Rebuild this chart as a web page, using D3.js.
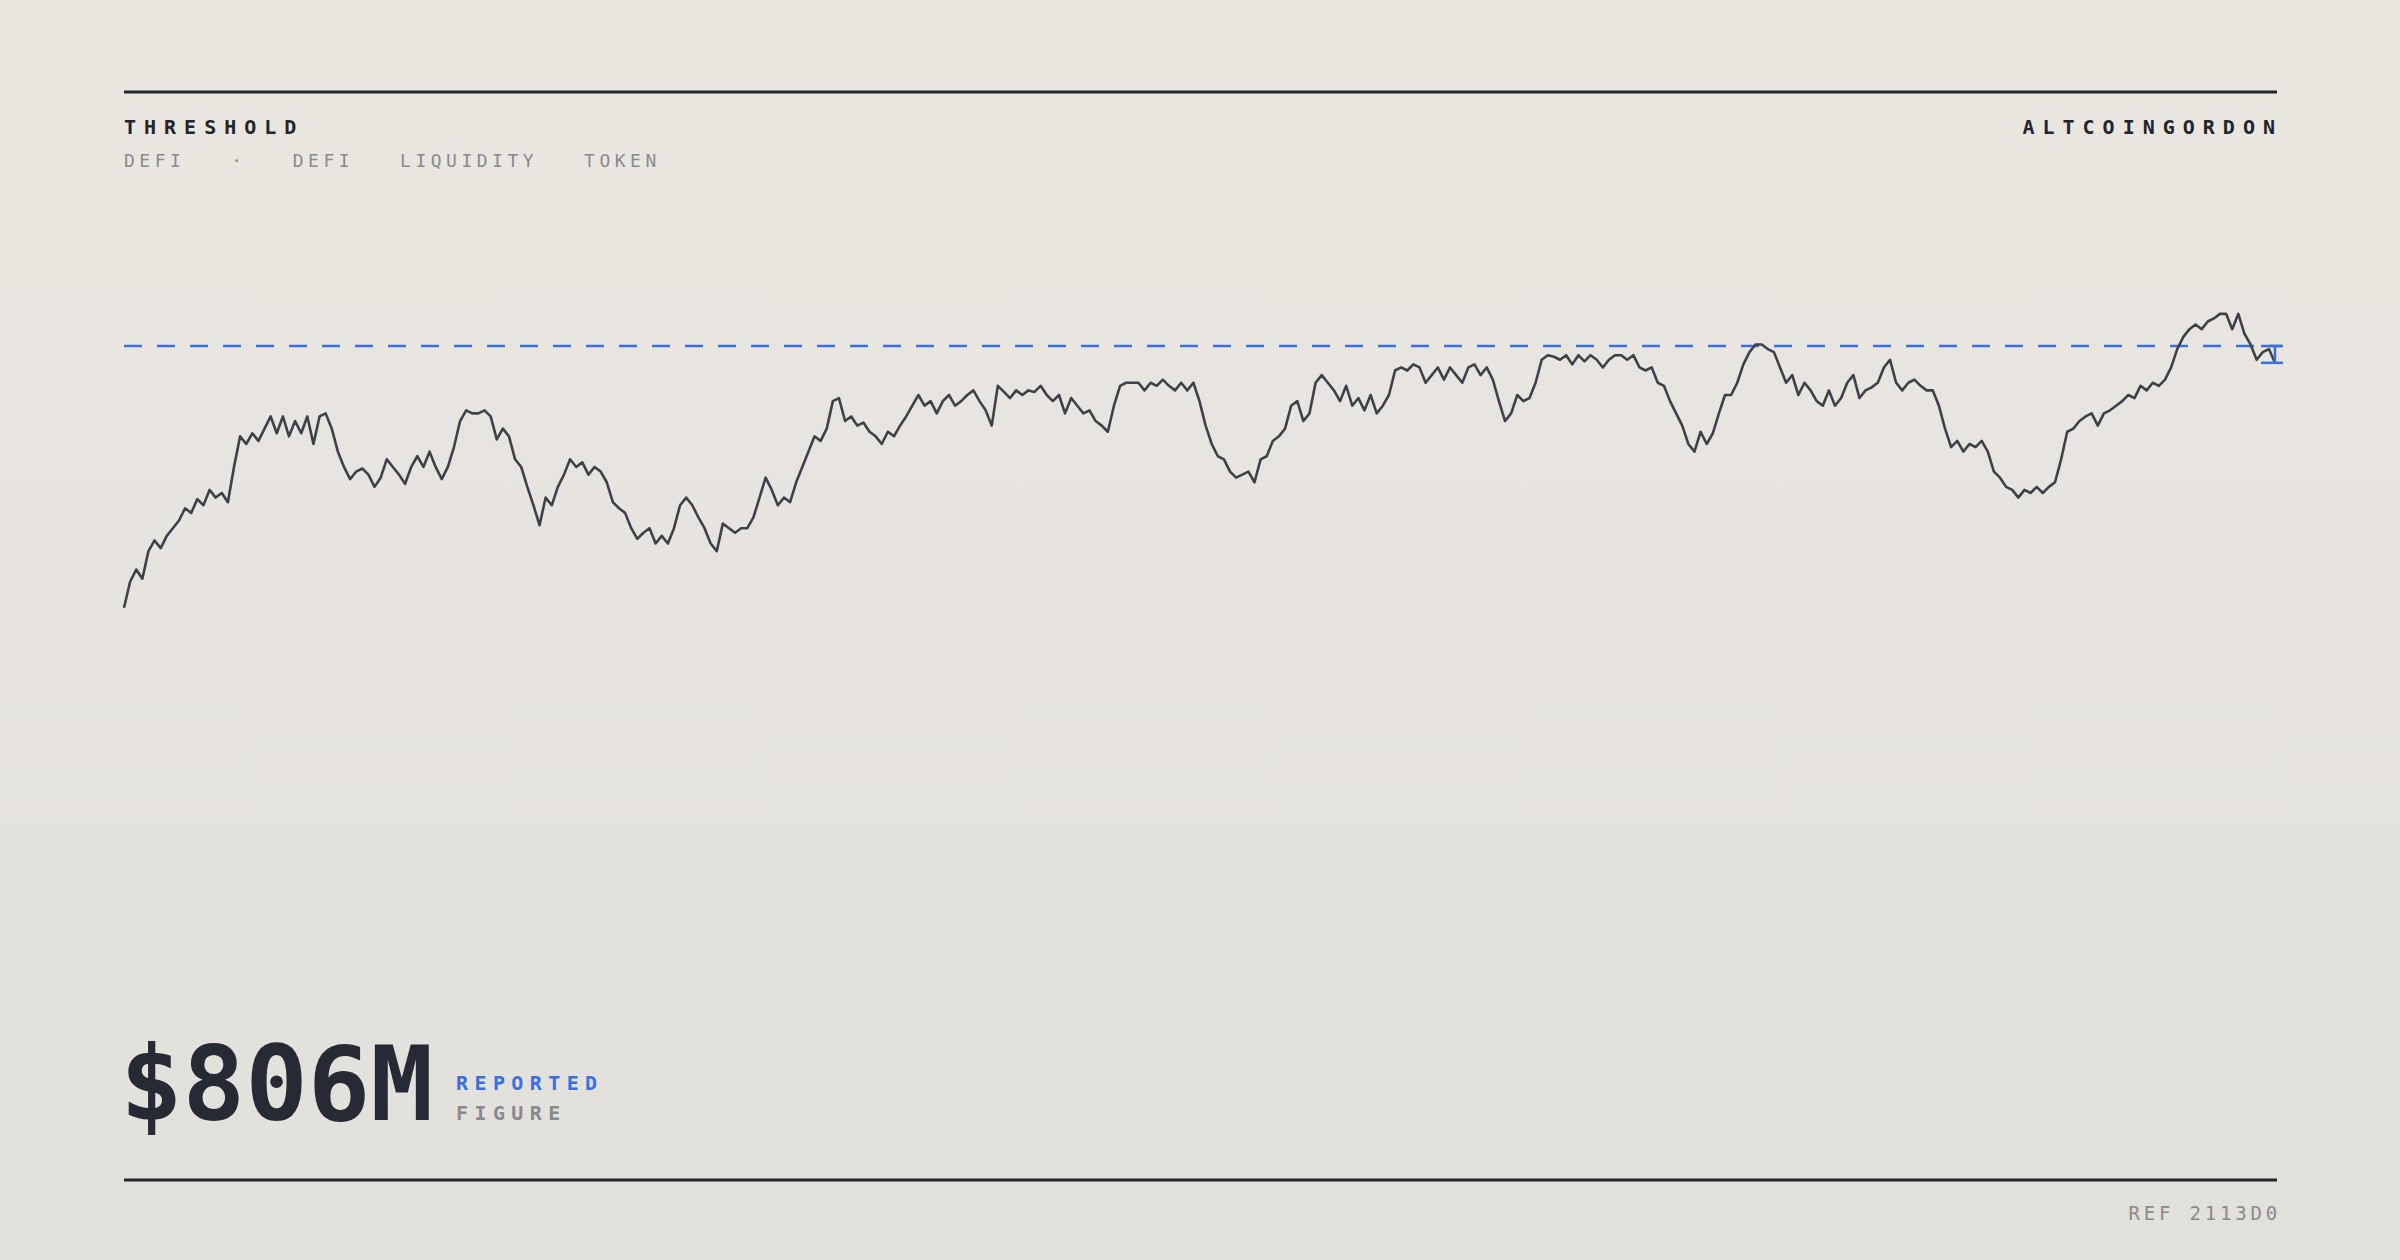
<!DOCTYPE html>
<html><head><meta charset="utf-8">
<script src="https://cdn.jsdelivr.net/npm/d3@7"></script>
<style>
html,body{margin:0;padding:0;}
body{width:2400px;height:1260px;overflow:hidden;}
</style></head>
<body><svg id="c" width="2400" height="1260"></svg>
<script>
const title = "THRESHOLD";
const subtitle = ["DEFI", "·", "DEFI", "LIQUIDITY", "TOKEN"];
const brand = "ALTCOINGORDON";
const headline = "$806M";
const tagTop = "REPORTED";
const tagBottom = "FIGURE";
const refText = "REF 2113D0";
const threshold = 374;
const series = [203,220,228,222,240,247,242,250,255,260,268,265,274,270,280,275,278,272,295,315,310,317,312,320,328,317,328,315,325,317,328,310,328,330,320,305,295,287,292,294,290,282,288,300,295,290,284,295,302,295,305,295,287,295,308,325,332,330,330,332,328,313,320,315,300,295,282,270,257,275,270,282,290,300,295,298,290,295,292,285,272,268,265,255,248,252,255,245,250,245,255,270,275,270,262,255,245,240,258,255,252,255,255,262,275,288,280,270,275,272,285,295,305,315,312,320,338,340,325,328,322,324,318,315,310,318,315,322,328,335,342,335,338,330,338,342,335,338,342,345,338,332,322,348,344,340,345,342,345,344,348,342,338,342,330,340,335,330,332,325,322,318,335,348,350,350,350,345,350,348,352,348,345,350,345,350,338,322,310,302,300,292,288,290,292,285,300,302,312,315,320,335,338,325,330,350,355,350,345,338,348,335,340,332,342,330,335,342,358,360,358,362,360,350,355,360,352,360,355,350,360,362,355,360,352,338,325,330,342,338,340,350,365,368,367,365,368,362,368,364,368,365,360,365,368,368,365,368,360,358,360,350,348,338,330,322,310,305,318,310,317,330,342,342,350,362,370,375,375,372,370,360,350,355,342,350,345,338,335,345,335,340,350,355,340,345,347,350,360,365,350,345,350,352,348,345,345,335,320,308,312,305,310,308,312,305,292,288,282,280,275,280,278,282,278,282,285,300,318,320,325,328,330,322,330,332,335,338,342,340,348,345,350,348,352,360,372,380,385,388,385,390,392,395,395,385,395,382,375,365,370,372,363];

const W = 2400, H = 1260, L = 124, R = 2277;
const svg = d3.select("#c");
const defs = svg.append("defs");
const g = defs.append("linearGradient").attr("id","bg").attr("x1",0).attr("y1",0).attr("x2",0).attr("y2",1);
g.append("stop").attr("offset","0%").attr("stop-color","#eae7e1");
g.append("stop").attr("offset","100%").attr("stop-color","#e2e0db");
svg.append("rect").attr("width",W).attr("height",H).attr("fill","url(#bg)");

const mono = "'DejaVu Sans Mono', 'Liberation Mono', monospace";
svg.append("line").attr("x1",L).attr("x2",R).attr("y1",92).attr("y2",92).attr("stroke","#22252d").attr("stroke-width",3);
svg.append("line").attr("x1",L).attr("x2",R).attr("y1",1180).attr("y2",1180).attr("stroke","#22252d").attr("stroke-width",3);

svg.append("text").attr("x",L).attr("y",134).text(title).attr("font-family",mono).attr("font-weight","bold")
  .attr("font-size",20).attr("letter-spacing","0.4em").attr("fill","#22252d");
svg.append("text").attr("x",R+6).attr("y",134).attr("text-anchor","end").text(brand).attr("font-family",mono).attr("font-weight","bold")
  .attr("font-size",20).attr("letter-spacing","0.4em").attr("fill","#22252d");
svg.append("text").attr("x",L).attr("y",167).text(subtitle.join("   ")).attr("font-family",mono)
  .attr("font-size",18).attr("letter-spacing","0.25em").attr("fill","#8a8a8e").style("white-space","pre");

const x = d3.scaleLinear().domain([0, series.length-1]).range([L, 2275]);
const y = d3.scaleLinear().domain([0, 600]).range([918.6, 0]);

svg.append("line").attr("x1",L).attr("x2",2282).attr("y1",y(threshold)).attr("y2",y(threshold))
  .attr("stroke","#3b6fe0").attr("stroke-width",2.5).attr("stroke-dasharray","18,15");

svg.append("path").datum(series).attr("d", d3.line().x((d,i)=>x(i)).y(d=>y(d)))
  .attr("fill","none").attr("stroke","#3e4149").attr("stroke-width",2.6).attr("stroke-linejoin","round");

const last = series[series.length-1], lx = x(series.length-1);
svg.append("line").attr("x1",lx).attr("x2",lx).attr("y1",y(threshold)).attr("y2",y(last)).attr("stroke","#3b6fe0").attr("stroke-width",2.5);
svg.append("line").attr("x1",lx-14).attr("x2",lx+8).attr("y1",y(last)).attr("y2",y(last)).attr("stroke","#3b6fe0").attr("stroke-width",2.5);
svg.append("line").attr("x1",lx-14).attr("x2",lx+8).attr("y1",y(threshold)).attr("y2",y(threshold)).attr("stroke","#3b6fe0").attr("stroke-width",2.5);

svg.append("text").attr("x",L-4).attr("y",1120).text(headline).attr("font-family",mono).attr("font-weight","bold")
  .attr("font-size",104).attr("fill","#262a35");
svg.append("text").attr("x",456).attr("y",1090).text(tagTop).attr("font-family",mono).attr("font-weight","bold")
  .attr("font-size",20).attr("letter-spacing","0.32em").attr("fill","#3b6fe0");
svg.append("text").attr("x",456).attr("y",1120).text(tagBottom).attr("font-family",mono).attr("font-weight","bold")
  .attr("font-size",20).attr("letter-spacing","0.32em").attr("fill","#8a8a8e");
svg.append("text").attr("x",R+4).attr("y",1220).attr("text-anchor","end").text(refText).attr("font-family",mono)
  .attr("font-size",19).attr("letter-spacing","0.2em").attr("fill","#8a8a8e");
</script></body></html>
